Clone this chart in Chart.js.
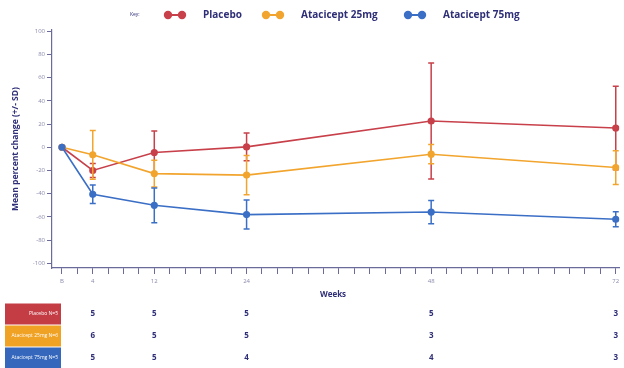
<!DOCTYPE html>
<html>
<head>
<meta charset="utf-8">
<script src="https://cdn.jsdelivr.net/npm/chart.js@4"></script>
<style>
  body { margin: 0; background: #fff; }
  #wrap { width: 624px; height: 368px; }
</style>
</head>
<body>
<div id="wrap"><canvas id="chart" width="624" height="368"></canvas></div>
<script>
// data
const weeks = [0, 4, 12, 24, 48, 72];
const placeboMean = [0, -20, -4.5, 0.3, 22.6, 16.6];
const placeboSD = [0, 6, 18.5, 12, 50, 36];
const ata25Mean = [0, -6.5, -22.7, -24, -6, -17.5];
const ata25SD = [0, 21, 11.5, 17, 8.3, 14.5];
const ata75Mean = [0, -40.5, -50, -58, -55.8, -62];
const ata75SD = [0, 8, 15, 12.5, 10, 6.5];

const seriesNames = ['Placebo', 'Atacicept 25mg', 'Atacicept 75mg'];
const tableLabels = ['Placebo N=5', 'Atacicept 25mg N=6', 'Atacicept 75mg N=5'];
const nPlacebo = [5, 5, 5, 5, 3];
const nAta25 = [6, 5, 5, 3, 3];
const nAta75 = [5, 5, 4, 4, 3];

const xLabelWeeks = [0, 4, 12, 24, 48, 72];
const yTicks = [-100, -80, -60, -40, -20, 0, 20, 40, 60, 80, 100];

const colors = ['#c8404a', '#f2a52e', '#3b6fc6'];
const boxColors = ['#c43c44', '#f0a224', '#3568bd'];
const navy = '#2f2f78';
const axisColor = '#6b6b9b';
const font = '"Open Sans", "Noto Sans", sans-serif';

const sds = [placeboSD, ata25SD, ata75SD];
const counts = [nPlacebo, nAta25, nAta75];

function pts(means) {
  return weeks.map((w, i) => ({ x: w, y: means[i] }));
}

// error bars, drawn just under each dataset's own line
const errorBars = {
  id: 'errorBars',
  beforeDatasetDraw(chart, args) {
    const i = args.index;
    const sd = sds[i];
    const ctx = chart.ctx;
    const xs = chart.scales.x, ys = chart.scales.y;
    const means = chart.data.datasets[i].data;
    ctx.save();
    ctx.strokeStyle = colors[i];
    ctx.lineWidth = 1.5;
    means.forEach((p, k) => {
      if (!sd[k]) return;
      const x = xs.getPixelForValue(p.x);
      const y1 = ys.getPixelForValue(p.y + sd[k]);
      const y2 = ys.getPixelForValue(p.y - sd[k]);
      ctx.beginPath();
      ctx.moveTo(x, y1); ctx.lineTo(x, y2);
      ctx.moveTo(x - 3, y1); ctx.lineTo(x + 3, y1);
      ctx.moveTo(x - 3, y2); ctx.lineTo(x + 3, y2);
      ctx.stroke();
    });
    ctx.restore();
  }
};

// legend on top, "Weeks" title and the N table below
const extras = {
  id: 'extras',
  afterDraw(chart) {
    const ctx = chart.ctx;
    const xs = chart.scales.x;
    ctx.save();
    // legend
    ctx.fillStyle = navy;
    ctx.font = '5px ' + font;
    ctx.textBaseline = 'middle';
    ctx.textAlign = 'left';
    ctx.fillText('Key:', 130, 15);
    const legendX = [166, 264, 406];
    seriesNames.forEach((name, i) => {
      const x0 = legendX[i];
      ctx.strokeStyle = colors[i];
      ctx.lineWidth = 2;
      ctx.beginPath(); ctx.moveTo(x0, 15); ctx.lineTo(x0 + 18, 15); ctx.stroke();
      ctx.fillStyle = colors[i];
      [x0 + 2, x0 + 16].forEach(cx => {
        ctx.beginPath(); ctx.arc(cx, 15, 4.2, 0, Math.PI * 2); ctx.fill();
      });
      ctx.fillStyle = navy;
      ctx.font = 'bold 10px ' + font;
      ctx.fillText(name, x0 + 37, 15);
    });

    // x title
    ctx.font = 'bold 8px ' + font;
    ctx.textAlign = 'center';
    ctx.fillText('Weeks', 333, 295);

    // table
    const rowY = [314, 336, 358];
    tableLabels.forEach((lab, r) => {
      ctx.fillStyle = boxColors[r];
      ctx.fillRect(5, rowY[r] - 10.5, 56, 21);
      ctx.fillStyle = '#fff';
      ctx.font = '5px ' + font;
      ctx.textAlign = 'right';
      ctx.fillText(lab, 58, rowY[r]);
      ctx.fillStyle = navy;
      ctx.font = 'bold 8px ' + font;
      ctx.textAlign = 'center';
      counts[r].forEach((n, k) => {
        ctx.fillText(String(n), xs.getPixelForValue(weeks[k + 1]), rowY[r]);
      });
    });
    ctx.restore();
  }
};

new Chart(document.getElementById('chart'), {
  type: 'line',
  data: {
    datasets: seriesNames.map((name, i) => ({
      label: name,
      data: pts([placeboMean, ata25Mean, ata75Mean][i]),
      borderColor: colors[i],
      backgroundColor: colors[i],
      borderWidth: 1.6,
      pointRadius: 2.8,
      pointHoverRadius: 2.8,
      tension: 0,
      order: 3 - i
    }))
  },
  options: {
    responsive: false,
    animation: false,
    events: [],
    layout: { padding: { top: 30, right: 4, left: 5, bottom: 0 } },
    plugins: { legend: { display: false }, tooltip: { enabled: false } },
    scales: {
      x: {
        type: 'linear',
        min: -1.3,
        max: 72.5,
        afterFit: s => { s.height = 100; },
        afterBuildTicks: s => {
          const t = [];
          for (let w = 0; w <= 72; w += 2) t.push({ value: w });
          s.ticks = t;
        },
        border: { color: axisColor, width: 1.2 },
        grid: { drawOnChartArea: false, color: axisColor, tickLength: 6, lineWidth: 1 },
        ticks: {
          autoSkip: false,
          maxRotation: 0,
          padding: 4,
          color: '#8a8aac',
          font: { size: 6, family: font },
          callback: v => xLabelWeeks.includes(v) ? (v === 0 ? 'B' : String(v)) : ''
        }
      },
      y: {
        min: -104,
        max: 101,
        afterFit: s => { s.width = 47; },
        afterBuildTicks: s => { s.ticks = yTicks.map(v => ({ value: v })); },
        border: { color: axisColor, width: 1.2 },
        grid: { drawOnChartArea: false, color: axisColor, tickLength: 5, lineWidth: 1 },
        ticks: {
          padding: 2,
          color: '#8a8aac',
          font: { size: 6, family: font }
        },
        title: {
          display: true,
          text: 'Mean percent change (+/- SD)',
          color: navy,
          font: { size: 8.5, weight: 'bold', family: font },
          padding: { top: 5, bottom: 0 }
        }
      }
    }
  },
  plugins: [errorBars, extras]
});
</script>
</body>
</html>
